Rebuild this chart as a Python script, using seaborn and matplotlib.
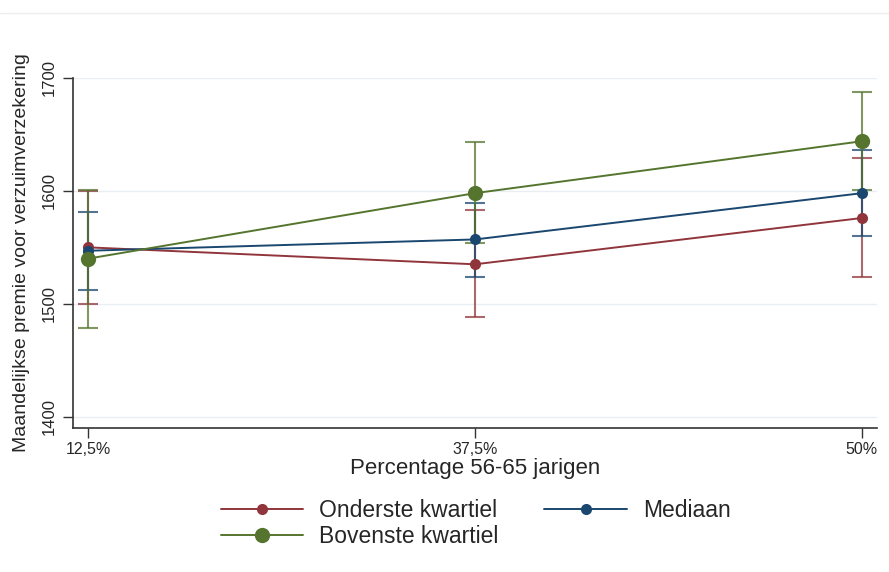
import matplotlib
matplotlib.use("Agg")
import matplotlib.pyplot as plt
from matplotlib.lines import Line2D
import seaborn as sns
import pandas as pd
import numpy as np

# values
categories = ["12,5%", "37,5%", "50%"]
groups = ["Onderste kwartiel", "Mediaan", "Bovenste kwartiel"]

onderste = [1550, 1535, 1576]
onderste_lo = [1500, 1488, 1524]
onderste_hi = [1600, 1583, 1629]

mediaan = [1547, 1557, 1598]
mediaan_lo = [1512, 1524, 1560]
mediaan_hi = [1581, 1589, 1636]

bovenste = [1540, 1598, 1644]
bovenste_lo = [1479, 1554, 1601]
bovenste_hi = [1601, 1643, 1688]

colors = {"Onderste kwartiel": "#90353b", "Mediaan": "#1a476f", "Bovenste kwartiel": "#55752f"}
msizes = {"Onderste kwartiel": 8, "Mediaan": 8, "Bovenste kwartiel": 11}

rows = []
for g, m, lo, hi in zip(groups, [onderste, mediaan, bovenste],
                        [onderste_lo, mediaan_lo, bovenste_lo],
                        [onderste_hi, mediaan_hi, bovenste_hi]):
    for i, c in enumerate(categories):
        rows.append({"groep": g, "pos": i, "cat": c, "premie": m[i], "lo": lo[i], "hi": hi[i]})
df = pd.DataFrame(rows)

sns.set_theme(style="white")
plt.rcParams['font.family'] = ['Liberation Sans', 'DejaVu Sans']

fig = plt.figure(figsize=(8.89, 5.72), dpi=100)
ax = fig.add_axes([73/889, 1 - 428/572, (877-73)/889, (428-78)/572])

for g in groups:
    sub = df[df["groep"] == g]
    ax.errorbar(sub["pos"], sub["premie"],
                yerr=[sub["premie"] - sub["lo"], sub["hi"] - sub["premie"]],
                fmt="none", ecolor=colors[g], alpha=0.75, elinewidth=1.5,
                capsize=7, capthick=1.5, zorder=2)
    sns.lineplot(data=sub, x="pos", y="premie", color=colors[g], marker="o",
                 markersize=msizes[g], markeredgewidth=0, linewidth=1.4,
                 label=g, ax=ax, zorder=3)

ax.set_xlim(-0.0388, 2.039)
ax.set_ylim(1390, 1700)
ax.set_xticks(range(len(categories)))
ax.set_xticklabels(categories, fontsize=11.5)
ax.set_yticks([1400, 1500, 1600, 1700])
ax.set_yticklabels(["1400", "1500", "1600", "1700"], fontsize=12, rotation=90, va="center")
ax.grid(axis="y", color="#e8eef2", linewidth=1)
ax.grid(axis="x", visible=False)
ax.tick_params(axis="both", which="major", length=7, width=1, color="#333333",
               bottom=True, left=True, pad=3)
ax.tick_params(axis="y", pad=5)
for s in ["top", "right"]:
    ax.spines[s].set_visible(False)
for s in ["left", "bottom"]:
    ax.spines[s].set_color("#333333")
    ax.spines[s].set_linewidth(1.2)

ax.set_xlabel("Percentage 56-65 jarigen", fontsize=16, labelpad=1)
ax.set_ylabel("Maandelijkse premie voor verzuimverzekering", fontsize=14, labelpad=8)

ax.get_legend().remove()
order = ["Onderste kwartiel", "Bovenste kwartiel", "Mediaan"]
handles = [Line2D([], [], color=colors[g], marker="o", markersize=msizes[g],
                  markeredgewidth=0, linewidth=1.4) for g in order]
fig.legend(handles, order, loc="upper left", bbox_to_anchor=(200/889, 1 - 478/572),
           ncol=2, frameon=False, fontsize=16.5, handlelength=3.6,
           handletextpad=0.7, columnspacing=2.0, labelspacing=0.15)

fig.add_artist(Line2D([0, 1], [1 - 13/572, 1 - 13/572], color="#eeeeee", linewidth=1))

fig.savefig("out.png", dpi=100)
